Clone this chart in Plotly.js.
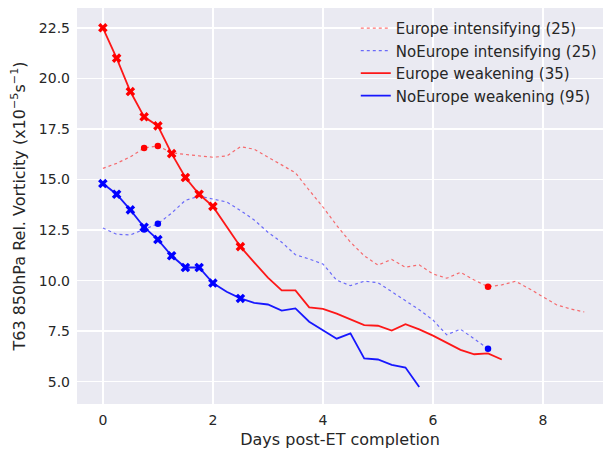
<!DOCTYPE html>
<html>
<head>
<meta charset="utf-8">
<script src="https://cdn.plot.ly/plotly-3.0.1.min.js"></script>
<style>
  html, body { margin: 0; padding: 0; background: #fff; }
  #chart { width: 603px; height: 449px; }
</style>
</head>
<body>
<div id="chart"></div>
<script>
const DAYS = [0, 0.25, 0.5, 0.75, 1, 1.25, 1.5, 1.75, 2, 2.25, 2.5, 2.75, 3, 3.25, 3.5, 3.75,
  4, 4.25, 4.5, 4.75, 5, 5.25, 5.5, 5.75, 6, 6.25, 6.5, 6.75, 7, 7.25, 7.5, 7.75,
  8, 8.25, 8.5, 8.75];

// vorticity composites (x10^-5 s^-1), one value every 6 h
const eurIntensifying = [15.55, 15.8, 16.12, 16.56, 16.66, 16.32, 16.24, 16.16, 16.1, 16.16,
  16.62, 16.5, 16.12, 15.75, 15.33, 14.47, 13.64, 12.73, 11.9, 11.23,
  10.77, 11.05, 10.66, 10.78, 10.33, 10.12, 10.41, 10.03, 9.7, 9.79,
  9.97, 9.6, 9.2, 8.8, 8.6, 8.45];
const noEurIntensifying = [12.6, 12.29, 12.26, 12.53, 12.81, 13.34, 13.97, 14.18, 14.05, 13.89,
  13.47, 13.0, 12.39, 11.9, 11.28, 11.07, 10.82, 10.02, 9.75, 9.97,
  9.9, 9.45, 8.97, 8.56, 8.05, 7.32, 7.6, 7.1, 6.63];
const eurWeakening = [22.5, 21.0, 19.35, 18.1, 17.65, 16.28, 15.1, 14.27, 13.67, 12.66,
  11.68, 10.9, 10.15, 9.52, 9.52, 8.68, 8.6, 8.37, 8.07, 7.8,
  7.77, 7.53, 7.85, 7.59, 7.28, 6.91, 6.58, 6.36, 6.4, 6.1];
const noEurWeakening = [14.8, 14.27, 13.5, 12.64, 12.03, 11.23, 10.65, 10.65, 9.88, 9.45,
  9.12, 8.9, 8.82, 8.52, 8.63, 7.97, 7.55, 7.13, 7.39, 6.15,
  6.1, 5.84, 5.7, 4.74];

// days flagged with a marker
const eurIntMarked = [0.75, 1, 7];
const noEurIntMarked = [0.75, 1, 7];
const eurWeakMarked = [0, 0.25, 0.5, 0.75, 1, 1.25, 1.5, 1.75, 2, 2.5];
const noEurWeakMarked = [0, 0.25, 0.5, 0.75, 1, 1.25, 1.5, 1.75, 2, 2.5];

const NAMES = ["Europe intensifying (25)", "NoEurope intensifying (25)",
  "Europe weakening (35)", "NoEurope weakening (95)"];

const FONT = "DejaVu Sans, sans-serif";
const TXT = "#262626";

function lineTrace(vals, name, color, dash, width) {
  return {
    x: DAYS.slice(0, vals.length), y: vals,
    type: "scatter", mode: "lines", name: name,
    line: { color: color, dash: dash, width: width }
  };
}

function markTrace(vals, marked, color, symbol, size) {
  const xs = [], ys = [];
  vals.forEach((v, i) => {
    if (marked.includes(DAYS[i])) { xs.push(DAYS[i]); ys.push(v); }
  });
  return {
    x: xs, y: ys, type: "scatter", mode: "markers", showlegend: false,
    marker: { color: color, symbol: symbol, size: size, line: { width: 0 } }
  };
}

const traces = [
  lineTrace(eurIntensifying, NAMES[0], "rgba(255,0,0,0.55)", "dot", 1.2),
  lineTrace(noEurIntensifying, NAMES[1], "rgba(0,0,255,0.55)", "dot", 1.2),
  lineTrace(eurWeakening, NAMES[2], "rgba(255,0,0,0.9)", "solid", 1.8),
  lineTrace(noEurWeakening, NAMES[3], "rgba(0,0,255,0.9)", "solid", 1.8),
  markTrace(eurIntensifying, eurIntMarked, "#ff0000", "circle", 6.5),
  markTrace(noEurIntensifying, noEurIntMarked, "#0000ff", "circle", 6.5),
  markTrace(eurWeakening, eurWeakMarked, "#ff0000", "x", 8.5),
  markTrace(noEurWeakening, noEurWeakMarked, "#0000ff", "x", 8.5)
];

const layout = {
  width: 603, height: 449,
  margin: { l: 77, r: 0, t: 8, b: 45 },
  paper_bgcolor: "#ffffff",
  plot_bgcolor: "#eaeaf2",
  font: { family: FONT, size: 14, color: TXT },
  showlegend: true,
  legend: {
    x: 0.53, y: 0.99, xanchor: "left", yanchor: "top",
    bgcolor: "rgba(0,0,0,0)", borderwidth: 0,
    font: { family: FONT, size: 15, color: TXT }
  },
  xaxis: {
    range: [-0.47, 9.09],
    tickvals: [0, 2, 4, 6, 8],
    ticktext: ["0", "2", "4", "6", "8"],
    showgrid: true, gridcolor: "#ffffff", gridwidth: 1.4,
    zeroline: false, showline: false, ticks: "",
    ticklabelstandoff: 6,
    tickfont: { size: 14, color: TXT },
    title: { text: "Days post-ET completion", font: { size: 16, color: TXT }, standoff: 7 }
  },
  yaxis: {
    range: [3.9, 23.48],
    tickvals: [5, 7.5, 10, 12.5, 15, 17.5, 20, 22.5],
    ticktext: ["5.0", "7.5", "10.0", "12.5", "15.0", "17.5", "20.0", "22.5"],
    showgrid: true, gridcolor: "#ffffff", gridwidth: 1.4,
    zeroline: false, showline: false, ticks: "",
    ticklabelstandoff: 6,
    tickfont: { size: 14, color: TXT },
    title: {
      text: "T63 850hPa Rel. Vorticity (x10<sup>\u22125</sup>s<sup>\u22121</sup>)",
      font: { size: 16, color: TXT }, standoff: 9
    }
  }
};

Plotly.newPlot("chart", traces, layout, { displayModeBar: false, staticPlot: true });
</script>
</body>
</html>
